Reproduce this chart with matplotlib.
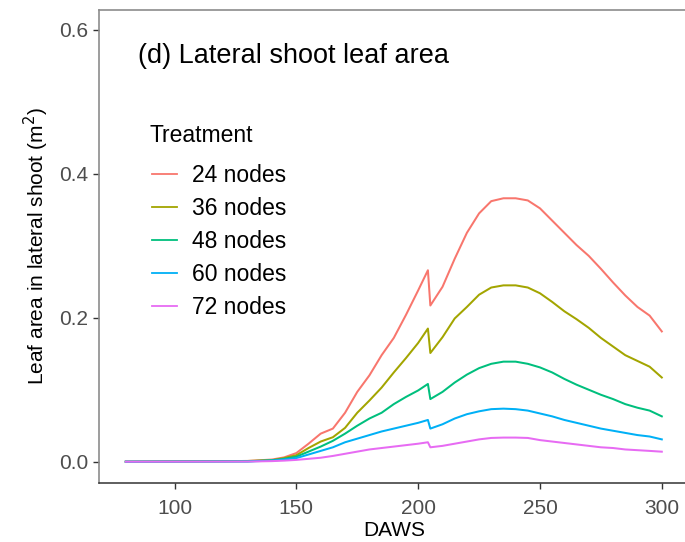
import matplotlib
matplotlib.use("Agg")
import matplotlib.pyplot as plt

plt.rcParams['font.family'] = ['Liberation Sans', 'DejaVu Sans']

# Days after winter solstice (DAWS) at which the series are sampled
days = [80, 130, 140, 145, 150, 155, 160, 165, 170, 175, 180, 185, 190, 195,
        200, 204, 205, 210, 215, 220, 225, 230, 235, 240, 245, 250, 255, 260,
        265, 270, 275, 280, 285, 290, 295, 300]

# Lateral shoot leaf area (m^2) per treatment
nodes_24 = [0, 0.001, 0.003, 0.006, 0.012, 0.025, 0.039, 0.046, 0.068, 0.097,
            0.120, 0.148, 0.172, 0.204, 0.238, 0.266, 0.217, 0.243, 0.282,
            0.318, 0.345, 0.362, 0.366, 0.366, 0.363, 0.352, 0.335, 0.318,
            0.301, 0.286, 0.268, 0.249, 0.231, 0.215, 0.203, 0.181]
nodes_36 = [0, 0.001, 0.002, 0.005, 0.009, 0.019, 0.028, 0.034, 0.047, 0.068,
            0.085, 0.103, 0.124, 0.144, 0.165, 0.185, 0.151, 0.173, 0.199,
            0.215, 0.232, 0.242, 0.245, 0.245, 0.242, 0.234, 0.222, 0.209,
            0.198, 0.186, 0.172, 0.160, 0.148, 0.140, 0.132, 0.117]
nodes_48 = [0, 0.0005, 0.002, 0.004, 0.007, 0.014, 0.021, 0.029, 0.039, 0.050,
            0.060, 0.068, 0.080, 0.090, 0.099, 0.108, 0.087, 0.097, 0.110,
            0.121, 0.130, 0.136, 0.139, 0.139, 0.136, 0.131, 0.124, 0.115,
            0.107, 0.100, 0.093, 0.087, 0.080, 0.075, 0.071, 0.063]
nodes_60 = [0, 0.0003, 0.0015, 0.003, 0.005, 0.010, 0.015, 0.020, 0.027, 0.032,
            0.037, 0.042, 0.046, 0.050, 0.054, 0.058, 0.046, 0.052, 0.060,
            0.066, 0.070, 0.073, 0.0737, 0.073, 0.071, 0.067, 0.063, 0.058,
            0.054, 0.050, 0.046, 0.043, 0.040, 0.037, 0.035, 0.031]
nodes_72 = [0, 0.0002, 0.0008, 0.0015, 0.0025, 0.004, 0.0055, 0.008, 0.011,
            0.014, 0.017, 0.019, 0.021, 0.023, 0.025, 0.027, 0.020, 0.022,
            0.025, 0.028, 0.031, 0.033, 0.0335, 0.0335, 0.033, 0.030, 0.028,
            0.026, 0.024, 0.022, 0.020, 0.019, 0.017, 0.016, 0.015, 0.0139]

labels = ["24 nodes", "36 nodes", "48 nodes", "60 nodes", "72 nodes"]
series = [nodes_24, nodes_36, nodes_48, nodes_60, nodes_72]
colors = ["#F8766D", "#A3A500", "#00BF7D", "#00B0F6", "#E76BF3"]

x_ticks = [100, 150, 200, 250, 300]
y_ticks = [0.0, 0.2, 0.4, 0.6]

W, H = 685, 542
fig = plt.figure(figsize=(W / 100, H / 100), dpi=100)
left, right, bottom, top = 99, 688.6, 483, 9.7
ax = fig.add_axes([left / W, 1 - bottom / H, (right - left) / W, (bottom - top) / H])

for vals, lab, col in zip(series, labels, colors):
    ax.plot(days, vals, color=col, lw=1.45, label=lab, solid_joinstyle='round')

ax.set_xlim(69, 311)
ax.set_ylim(-0.0296, 0.628)
ax.set_xticks(x_ticks)
ax.set_xticklabels([str(t) for t in x_ticks])
ax.set_yticks(y_ticks)
ax.set_yticklabels([f"{t:.1f}" for t in y_ticks])

ax.tick_params(axis='both', length=4.3, width=1.0, color='#333333',
               labelcolor='#4D4D4D', labelsize=15)
ax.tick_params(axis='x', pad=7.2)
ax.tick_params(axis='y', pad=3.2)

for side in ['top', 'left', 'right']:
    ax.spines[side].set_color('#8C8C8C')
    ax.spines[side].set_linewidth(1.2)
ax.spines['bottom'].set_color('#333333')
ax.spines['bottom'].set_linewidth(1.1)

ax.set_xlabel("DAWS", fontsize=15, color='black', labelpad=2)
ax.set_ylabel("Leaf area in lateral shoot (m$^2$)", fontsize=15, color='black', labelpad=5.8)

ax.text(138 / W, 1 - 56 / H, "(d) Lateral shoot leaf area", transform=fig.transFigure,
        fontsize=19.5, color='black', ha='left', va='center')

# Legend title and entries
ax.text(149 / W, 1 - 135 / H, "Treatment", transform=fig.transFigure,
        fontsize=16.5, color='black', ha='left', va='center')
leg = ax.legend(loc='upper left', bbox_to_anchor=(151.7 / W, 1 - 163.6 / H),
                bbox_transform=fig.transFigure, frameon=False, fontsize=16.5,
                handlelength=1.1, handletextpad=0.65, labelspacing=0.445,
                borderpad=0, borderaxespad=0)
for line in leg.get_lines():
    line.set_linewidth(1.3)

fig.savefig("out.png", dpi=100)
